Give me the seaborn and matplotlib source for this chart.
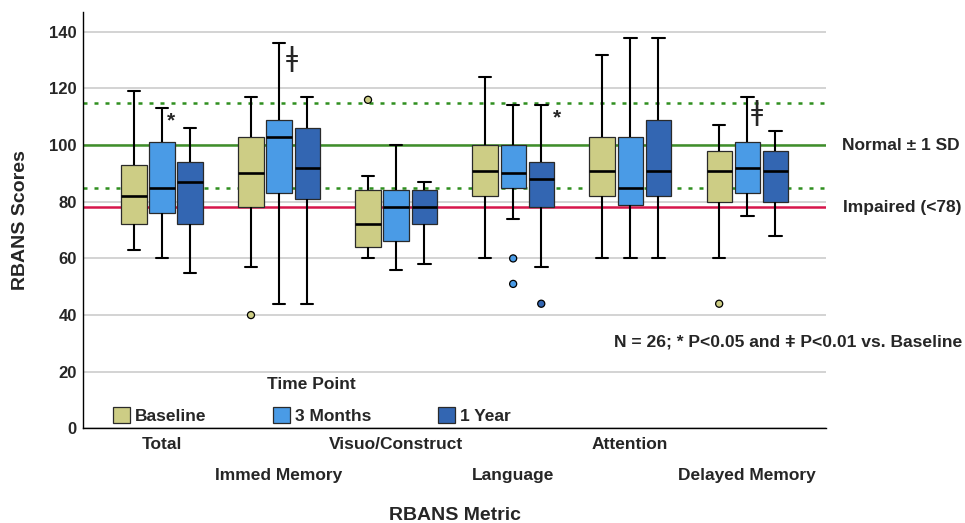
import numpy as np
import pandas as pd
import seaborn as sns
import matplotlib
matplotlib.use("Agg")
import matplotlib.pyplot as plt
from matplotlib.patches import Patch
from matplotlib.ticker import FixedLocator
from matplotlib.transforms import ScaledTranslation, blended_transform_factory

# 数据：每个指标、每个时间点的箱线图五数（下须、Q1、中位数、Q3、上须）
metrics = ["Total", "Immed Memory", "Visuo/Construct", "Language", "Attention", "Delayed Memory"]
timepoints = ["Baseline", "3 Months", "1 Year"]

baseline_lo = [63, 57, 60, 60, 60, 60]
baseline_q1 = [72, 78, 64, 82, 82, 80]
baseline_med = [82, 90, 72, 91, 91, 91]
baseline_q3 = [93, 103, 84, 100, 103, 98]
baseline_hi = [119, 117, 89, 124, 132, 107]

m3_lo = [60, 44, 56, 74, 60, 75]
m3_q1 = [76, 83, 66, 85, 79, 83]
m3_med = [85, 103, 78, 90, 85, 92]
m3_q3 = [101, 109, 84, 100, 103, 101]
m3_hi = [113, 136, 100, 114, 138, 117]

y1_lo = [55, 44, 58, 57, 60, 68]
y1_q1 = [72, 81, 72, 78, 82, 80]
y1_med = [87, 92, 78, 88, 91, 91]
y1_q3 = [94, 106, 84, 94, 109, 98]
y1_hi = [106, 117, 87, 114, 138, 105]

# 离群点
outlier_metric = ["Immed Memory", "Visuo/Construct", "Language", "Language", "Language", "Delayed Memory"]
outlier_time = ["Baseline", "Baseline", "3 Months", "3 Months", "1 Year", "Baseline"]
outlier_value = [40, 116, 60, 51, 44, 44]

# 显著性标记
sig_metric = ["Total", "Immed Memory", "Language", "Delayed Memory"]
sig_time = ["3 Months", "3 Months", "1 Year", "3 Months"]
sig_symbol = ["*", "\u01c2", "*", "\u01c2"]

normal_mean, normal_sd, impaired_cut = 100, 15, 78

colors = ["#cdcd85", "#4a9be6", "#3366b2"]

# 拼成长表，每个箱子五个值，whis=(0,100) 让须正好落在最小最大值
summ = {
    "Baseline": [baseline_lo, baseline_q1, baseline_med, baseline_q3, baseline_hi],
    "3 Months": [m3_lo, m3_q1, m3_med, m3_q3, m3_hi],
    "1 Year": [y1_lo, y1_q1, y1_med, y1_q3, y1_hi],
}
rows = []
for tp in timepoints:
    for i, m in enumerate(metrics):
        for stat in summ[tp]:
            rows.append((m, tp, stat[i]))
df = pd.DataFrame(rows, columns=["metric", "timepoint", "score"])

sns.set_style("white")
plt.rcParams["font.family"] = ["Liberation Sans", "DejaVu Sans"]
plt.rcParams["font.weight"] = "bold"

fig = plt.figure(figsize=(9.65, 5.23), dpi=100)
ax = fig.add_axes([0.086, 0.181, 0.770, 0.796])

width, gap = 0.72, 0.1
step = width / len(timepoints)

ax.set_axisbelow(True)
ax.grid(axis="y", color="#c8c8c8", linewidth=1.1, zorder=0)

# 参考线
ax.axhline(normal_mean, color="#3f8f2a", lw=1.8, zorder=1.5)
for v in (normal_mean - normal_sd, normal_mean + normal_sd):
    ax.axhline(v, color="#2f8f1f", lw=1.8, dashes=(1.6, 2.8), zorder=1.5)
ax.axhline(impaired_cut, color="#d6154a", lw=1.8, zorder=1.5)

sns.boxplot(data=df, x="metric", y="score", hue="timepoint", order=metrics,
            hue_order=timepoints, palette=colors, saturation=1, whis=(0, 100),
            width=width, gap=gap, showfliers=False, linecolor="black", linewidth=1.5,
            legend=False, ax=ax,
            medianprops=dict(color="black", linewidth=1.9),
            whiskerprops=dict(color="black", linewidth=1.5),
            capprops=dict(color="black", linewidth=1.5))
for p in ax.patches:
    p.set_edgecolor("#2a2a2a")
    p.set_linewidth(0.9)
    p.set_zorder(2)

# 离群点
ox = [metrics.index(m) + (timepoints.index(t) - 1) * step for m, t in zip(outlier_metric, outlier_time)]
ocol = [colors[timepoints.index(t)] for t in outlier_time]
ax.scatter(ox, outlier_value, s=26, c=ocol, edgecolors="black", linewidths=0.9, zorder=4)

# 显著性符号
sig_dx = [0.08, 0.11, 0.135, 0.085]
for m, t, s, dx in zip(sig_metric, sig_time, sig_symbol, sig_dx):
    i, j = metrics.index(m), timepoints.index(t)
    top = summ[t][4][i]
    if s == "*":
        ax.text(i + (j - 1) * step + dx, top - 4.5, s, fontsize=15, fontweight="bold",
                ha="center", va="center", zorder=5)
    else:
        ax.text(i + (j - 1) * step + dx, top - 5.5, s, fontsize=19, fontweight="normal",
                family="DejaVu Sans", ha="center", va="center", zorder=5)

ax.set_xlim(-0.675, 5.673)
ax.set_ylim(0, 147)

ax.set_yticks(range(0, 141, 20))
ax.yaxis.set_minor_locator(FixedLocator(range(10, 140, 20)))
ax.tick_params(axis="y", which="major", length=0, pad=4.5, labelsize=12)
ax.tick_params(axis="y", which="minor", length=3.6, width=0.9, color="black", direction="out")
ax.tick_params(axis="x", length=0, pad=6.5, labelsize=12.5)
ax.set_xticks(range(len(metrics)))
ax.set_xticklabels(metrics)
for k, lab in enumerate(ax.get_xticklabels()):
    lab.set_fontweight("bold")
    if k % 2 == 1:
        lab.set_transform(lab.get_transform() + ScaledTranslation(0, -0.31, fig.dpi_scale_trans))
for lab in ax.get_yticklabels():
    lab.set_fontweight("bold")

for side in ["top", "right"]:
    ax.spines[side].set_visible(False)
for side in ["left", "bottom"]:
    ax.spines[side].set_color("black")
    ax.spines[side].set_linewidth(1.0)

ax.set_xlabel("RBANS Metric", fontsize=14, fontweight="bold")
ax.set_ylabel("RBANS Scores", fontsize=14, fontweight="bold")
ax.xaxis.set_label_coords(0.5, -0.19)
ax.yaxis.set_label_coords(-0.0727, 0.5)

# 右侧说明文字
tr = blended_transform_factory(ax.transAxes, ax.transData)
ax.text(1.0215, normal_mean, "Normal \u00b1 1 SD", transform=tr, fontsize=12.5,
        fontweight="bold", va="center", ha="left", clip_on=False)
ax.text(1.023, impaired_cut, "Impaired (<78)", transform=tr, fontsize=12.5,
        fontweight="bold", va="center", ha="left", clip_on=False)
ax.text(1.183, 30.5, "N = 26; * P<0.05 and \u01c2 P<0.01 vs. Baseline", transform=tr,
        fontsize=12.6, fontweight="bold", va="center", ha="right", clip_on=False)

# 图例
handles = [Patch(facecolor=c, edgecolor="#2a2a2a", linewidth=0.9) for c in colors]
leg = ax.legend(handles, timepoints, title="Time Point", ncol=3, loc="lower left",
                bbox_to_anchor=(0.040, 0.01), frameon=False, borderpad=0, borderaxespad=0,
                handlelength=1.0, handleheight=1.0, handletextpad=0.3, columnspacing=3.8,
                labelspacing=0.9, prop={"size": 12.5, "weight": "bold"},
                title_fontproperties={"size": 12.5, "weight": "bold"})

fig.savefig("out.png", dpi=100)
